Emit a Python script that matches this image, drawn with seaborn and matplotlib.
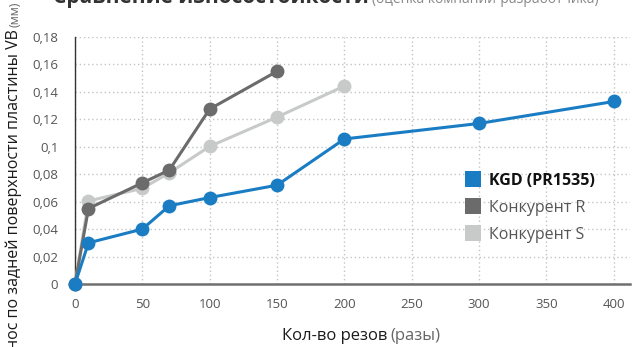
import matplotlib
matplotlib.use("Agg")
import matplotlib.pyplot as plt
from matplotlib.lines import Line2D
from matplotlib.ticker import FuncFormatter
import seaborn as sns
import pandas as pd

# Wear of the insert flank face (VB, mm) vs. number of cuts
cuts_kgd = [0, 10, 50, 70, 100, 150, 200, 300, 400]
wear_kgd = [0, 0.030, 0.040, 0.057, 0.063, 0.072, 0.1057, 0.117, 0.133]

cuts_r = [0, 10, 50, 70, 100, 150]
wear_r = [0, 0.055, 0.0737, 0.083, 0.1275, 0.155]

cuts_s = [0, 10, 50, 70, 100, 150, 200]
wear_s = [0, 0.0605, 0.0697, 0.081, 0.1003, 0.1216, 0.1443]

series_names = ["KGD (PR1535)", "Конкурент R", "Конкурент S"]
series_colors = ["#1a7dc4", "#6b6b6b", "#c8c9c9"]

x_ticks = [0, 50, 100, 150, 200, 250, 300, 350, 400]
y_ticks = [0, 0.02, 0.04, 0.06, 0.08, 0.10, 0.12, 0.14, 0.16, 0.18]

sns.set_theme(style="white")
plt.rcParams["font.family"] = ["Open Sans", "DejaVu Sans"]

fig = plt.figure(figsize=(6.33, 3.47), dpi=100)
ax = fig.add_axes([75 / 633, 1 - 284 / 347, 555 / 633, 247 / 347])

frames = [
    pd.DataFrame({"cuts": cuts_s, "wear": wear_s}),
    pd.DataFrame({"cuts": cuts_r, "wear": wear_r}),
    pd.DataFrame({"cuts": cuts_kgd, "wear": wear_kgd}),
]
# draw back to front: S, R, then KGD on top
for df, color in zip(frames, [series_colors[2], series_colors[1], series_colors[0]]):
    sns.lineplot(data=df, x="cuts", y="wear", ax=ax, color=color, marker="o",
                 markersize=10, markeredgewidth=0, linewidth=2.2, clip_on=False,
                 legend=False, zorder=3)

ax.set_xlim(0, 412)
ax.set_ylim(0, 0.18)
ax.set_xticks(x_ticks)
ax.set_yticks(y_ticks)


def comma_fmt(v, pos):
    s = f"{v:.2f}".rstrip("0").rstrip(".")
    return s.replace(".", ",")


ax.yaxis.set_major_formatter(FuncFormatter(comma_fmt))
ax.tick_params(axis="both", length=0, labelsize=9.5, labelcolor="#555555")
ax.tick_params(axis="y", pad=12)
ax.tick_params(axis="x", pad=10)

ax.grid(True, which="major", color="#c4c4c4", linestyle=(0, (1, 2)), linewidth=1.0)
ax.set_axisbelow(True)
for side in ["top", "right"]:
    ax.spines[side].set_visible(False)
ax.spines["left"].set_color("#333333")
ax.spines["left"].set_linewidth(1.0)
ax.spines["bottom"].set_color("#707070")
ax.spines["bottom"].set_linewidth(1.8)
ax.set_xlabel("")
ax.set_ylabel("")

# axis titles
fig.text(282 / 633, 1 - 336 / 347, "Кол-во резов", fontsize=12, color="#1a1a1a",
         ha="left", va="center")
fig.text(390 / 633, 1 - 336 / 347, "(разы)", fontsize=12, color="#666666",
         ha="left", va="center")
fig.text(14 / 633, 1 - 29 / 347, "Износ по задней поверхности пластины VB",
         fontsize=11.5, color="#1a1a1a", rotation=90, ha="center", va="top")
fig.text(15 / 633, 1 - 2 / 347, "(мм)", fontsize=9, color="#666666",
         rotation=90, ha="center", va="top")

# chart heading (runs past the top edge)
fig.text(53 / 633, 1 - 3 / 347, "Сравнение износостойкости", fontsize=15,
         fontweight="bold", color="#333333", ha="left", va="baseline")
fig.text(372 / 633, 1 - 3 / 347, "(оценка компании-разработчика)", fontsize=10,
         color="#888888", ha="left", va="baseline")

handles = [Line2D([], [], linestyle="none", marker="s", markersize=12,
                  markerfacecolor=c, markeredgewidth=0) for c in series_colors]
leg = ax.legend(handles, series_names, loc="upper left",
                bbox_to_anchor=(467 / 633, 1 - 173 / 347),
                bbox_transform=fig.transFigure, frameon=False, fontsize=11.5,
                handlelength=0.8, handletextpad=0.6, labelspacing=0.68,
                borderaxespad=0, borderpad=0)
texts = leg.get_texts()
texts[0].set_fontweight("bold")
texts[0].set_color("#111111")
for t in texts[1:]:
    t.set_color("#555555")

fig.savefig("out.png", dpi=100)
